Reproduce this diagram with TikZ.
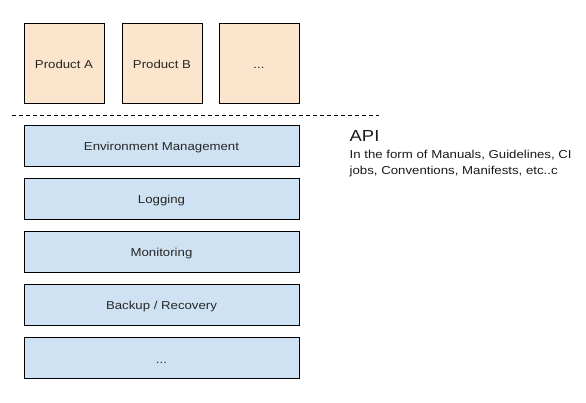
\documentclass[tikz,border=0pt]{standalone}
\usepackage{fontspec}
\setmainfont[FakeStretch=1.15]{Liberation Sans}
\definecolor{prodfill}{HTML}{FCE5CD}
\definecolor{layerfill}{HTML}{CFE2F3}
\begin{document}
\begin{tikzpicture}[x=1pt,y=-1pt,
  boxfont/.style={font=\fontsize{11.5}{13}\selectfont,text height=10.5pt,text depth=0pt,text=black!85},
  prodbox/.style={draw=black,line width=1pt,fill=prodfill,minimum width=80pt,minimum height=80pt,inner sep=0pt,boxfont},
  layerbox/.style={draw=black,line width=1pt,fill=layerfill,minimum width=275pt,minimum height=41pt,inner sep=0pt,boxfont},
  sep/.style={line width=0.8pt,dash pattern=on 4pt off 3pt}]
\useasboundingbox (0,0) rectangle (586,402);
\node[prodbox] (pa) at (64,63) {Product A};
\node[prodbox] (pb) at (162,63) {Product B};
\node[prodbox] (pc) at (259,63) {...};
\coordinate (l0) at (12,115);
\coordinate (l1) at (379,115);
\draw[sep] (l0) -- (l1);
\node[layerbox] (env) at (161.5,145.5) {Environment Management};
\node[layerbox] (log) at (161.5,198.5) {Logging};
\node[layerbox] (mon) at (161.5,251.5) {Monitoring};
\node[layerbox] (bak) at (161.5,304.5) {Backup / Recovery};
\node[layerbox] (etc) at (161.5,358) {...};
\node[anchor=base west,inner sep=0pt,text=black!90,font=\fontsize{16}{18}\selectfont] (api) at (349.5,141) {API};
\node[anchor=base west,inner sep=0pt,text=black!90,font=\fontsize{11.5}{16}\selectfont] (desc1) at (349.5,158) {In the form of Manuals, Guidelines, CI};
\node[anchor=base west,inner sep=0pt,text=black!90,font=\fontsize{11.5}{16}\selectfont] (desc2) at (349.5,174) {jobs, Conventions, Manifests, etc..c};
\end{tikzpicture}
\end{document}
